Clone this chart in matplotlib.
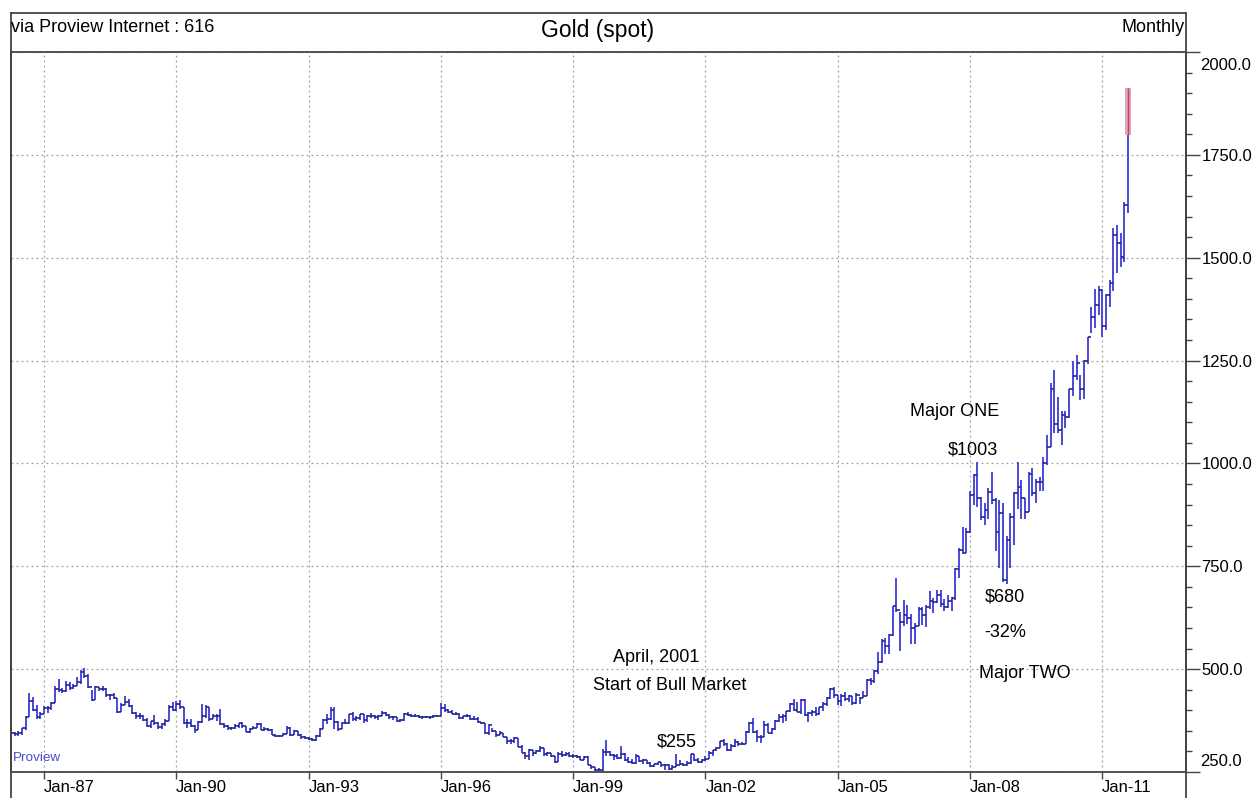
import numpy as np
import matplotlib
matplotlib.use("Agg")
import matplotlib.pyplot as plt
from matplotlib.lines import Line2D
from matplotlib.patches import Rectangle

plt.rcParams['font.family'] = ['Liberation Sans', 'DejaVu Sans']

# ---------------- data: monthly gold OHLC, Apr 1986 .. Aug 2011 ----------------
first_month = -9          # Apr 1986, months counted from Jan 1987

opens = [
    340, 345, 343, 345, 357, 384, 423, 401, 383,                      # 1986 Apr-Dec
    391, 405, 406, 418, 452, 450, 447, 462, 453, 459, 468, 492,       # 1987
    484, 456, 426, 457, 451, 451, 436, 437, 430, 397, 412, 421,       # 1988
    410, 394, 387, 385, 377, 362, 374, 369, 359, 366, 375, 408,       # 1989
    401, 415, 407, 368, 368, 363, 352, 372, 387, 408, 378, 385,       # 1990
    386, 366, 363, 356, 357, 361, 368, 362, 348, 354, 358, 366,       # 1991
    353, 354, 353, 341, 337, 337, 343, 357, 340, 349, 340, 334,       # 1992
    333, 330, 328, 338, 355, 377, 378, 401, 371, 355, 370, 370,       # 1993
    391, 378, 381, 390, 376, 387, 387, 384, 385, 394, 389, 383,       # 1994
    383, 375, 376, 392, 389, 385, 387, 384, 383, 383, 383, 387,       # 1995
    387, 405, 400, 396, 392, 391, 382, 385, 387, 379, 379, 371,       # 1996
    369, 345, 364, 349, 340, 345, 334, 326, 325, 332, 311, 296,       # 1997
    290, 303, 297, 301, 308, 293, 296, 288, 274, 294, 292, 294,       # 1998
    288, 288, 287, 280, 286, 268, 262, 255, 254, 299, 299, 292,       # 1999
    290, 283, 293, 279, 274, 272, 288, 276, 278, 273, 264, 269,       # 2000
    274, 266, 267, 258, 263, 267, 270, 266, 273, 293, 280, 275,       # 2001
    279, 282, 297, 303, 308, 326, 318, 304, 312, 324, 317, 318,       # 2002
    347, 368, 347, 334, 336, 364, 346, 354, 375, 384, 386, 398,       # 2003
    416, 400, 397, 424, 388, 394, 395, 391, 408, 415, 429, 452,       # 2004
    438, 422, 435, 428, 435, 417, 436, 429, 434, 473, 470, 495,       # 2005
    517, 569, 556, 582, 654, 643, 614, 632, 624, 599, 604, 646,       # 2006
    632, 650, 666, 662, 679, 659, 650, 666, 673, 743, 789, 783,       # 2007
    834, 923, 971, 916, 871, 887, 930, 912, 834, 880, 717, 815,       # 2008
    869, 927, 942, 916, 883, 975, 927, 955, 955, 1000, 1040, 1180,    # 2009
    1097, 1081, 1118, 1113, 1180, 1212, 1245, 1181, 1248, 1307, 1357, 1386,  # 2010
    1421, 1333, 1410, 1439, 1556, 1536, 1501, 1628,                   # 2011 Jan-Aug
]
highs = [
    352, 347, 349, 358, 386, 443, 432, 412, 395,
    411, 411, 420, 460, 477, 454, 471, 468, 465, 482, 498, 502,
    487, 450, 458, 457, 458, 455, 439, 443, 431, 418, 434, 428,
    412, 396, 394, 389, 381, 374, 388, 372, 369, 378, 413, 419,
    423, 425, 408, 380, 378, 364, 374, 415, 412, 408, 390, 392,
    403, 369, 365, 360, 366, 370, 371, 361, 356, 362, 370, 368,
    359, 357, 354, 342, 341, 344, 363, 359, 351, 349, 342, 337,
    336, 333, 341, 357, 378, 392, 409, 407, 373, 372, 379, 392,
    396, 387, 392, 392, 389, 393, 389, 388, 398, 397, 392, 385,
    384, 378, 393, 396, 390, 391, 389, 386, 387, 387, 389, 389,
    417, 416, 403, 400, 396, 393, 387, 391, 389, 385, 383, 372,
    370, 366, 356, 350, 349, 345, 334, 331, 336, 333, 315, 298,
    306, 304, 303, 314, 308, 299, 297, 289, 298, 302, 298, 298,
    293, 291, 290, 290, 288, 268, 263, 260, 306, 328, 300, 294,
    293, 313, 296, 287, 281, 294, 290, 281, 279, 275, 270, 274,
    274, 270, 269, 266, 294, 279, 272, 277, 294, 294, 284, 281,
    288, 300, 303, 310, 326, 330, 320, 318, 330, 326, 323, 349,
    372, 382, 353, 340, 373, 370, 358, 376, 392, 391, 399, 417,
    427, 419, 427, 428, 395, 400, 409, 409, 419, 432, 455, 456,
    438, 440, 445, 437, 434, 441, 432, 448, 475, 478, 498, 541,
    573, 575, 586, 654, 722, 640, 669, 655, 633, 612, 650, 650,
    657, 690, 674, 693, 692, 671, 681, 676, 745, 795, 845, 842,
    934, 974, 1003, 918, 904, 940, 980, 915, 912, 903, 823, 880,
    930, 1004, 960, 917, 980, 990, 962, 966, 1016, 1070, 1196, 1227,
    1162, 1128, 1127, 1181, 1249, 1264, 1214, 1251, 1308, 1381, 1424, 1431,
    1425, 1411, 1446, 1572, 1580, 1560, 1636, 1913,
]
lows = [
    336, 337, 337, 341, 352, 383, 399, 380, 380,
    392, 394, 400, 418, 445, 442, 445, 450, 451, 459, 464, 478,
    454, 423, 426, 446, 447, 432, 425, 427, 394, 397, 412, 409,
    392, 380, 380, 375, 359, 358, 364, 355, 355, 362, 375, 399,
    398, 403, 366, 358, 360, 345, 351, 370, 381, 375, 378, 375,
    364, 356, 352, 353, 354, 357, 358, 347, 345, 355, 356, 351,
    349, 350, 340, 334, 334, 337, 342, 337, 339, 338, 330, 331,
    327, 326, 326, 336, 354, 367, 376, 355, 350, 354, 367, 367,
    375, 374, 376, 368, 372, 382, 378, 377, 385, 386, 380, 376,
    371, 371, 374, 386, 383, 383, 382, 379, 381, 380, 382, 383,
    386, 396, 394, 390, 389, 380, 379, 383, 377, 377, 370, 367,
    342, 341, 347, 335, 339, 334, 317, 318, 320, 310, 296, 281,
    278, 288, 293, 298, 290, 289, 287, 271, 275, 287, 289, 286,
    285, 283, 278, 279, 267, 257, 253, 251, 253, 288, 288, 280,
    281, 282, 277, 272, 270, 270, 275, 270, 269, 263, 263, 266,
    263, 255, 255, 255, 262, 266, 264, 265, 270, 276, 271, 271,
    277, 281, 288, 300, 308, 314, 302, 300, 310, 314, 315, 318,
    344, 345, 322, 320, 335, 344, 342, 352, 372, 368, 375, 395,
    398, 397, 390, 386, 372, 385, 387, 388, 399, 410, 427, 431,
    413, 411, 423, 421, 414, 415, 416, 429, 434, 461, 467, 489,
    515, 538, 538, 580, 638, 543, 605, 610, 560, 560, 604, 608,
    603, 646, 636, 660, 652, 642, 648, 641, 668, 722, 780, 782,
    831, 898, 895, 862, 851, 864, 902, 786, 745, 712, 708, 745,
    802, 890, 865, 866, 882, 920, 904, 932, 934, 995, 1040, 1075,
    1074, 1045, 1087, 1111, 1165, 1202, 1155, 1157, 1242, 1316, 1330, 1360,
    1308, 1324, 1381, 1418, 1462, 1478, 1490, 1609,
]
closes = [
    345, 343, 345, 357, 384, 423, 401, 383, 391,
    405, 406, 418, 452, 450, 447, 462, 453, 459, 468, 492, 484,
    456, 426, 457, 451, 451, 436, 437, 430, 397, 412, 421, 410,
    394, 387, 385, 377, 362, 374, 369, 359, 366, 375, 408, 401,
    415, 407, 368, 368, 363, 352, 372, 387, 408, 378, 385, 386,
    366, 363, 356, 357, 361, 368, 362, 348, 354, 358, 366, 353,
    354, 353, 341, 337, 337, 343, 357, 340, 349, 340, 334, 333,
    330, 328, 338, 355, 377, 378, 401, 371, 355, 370, 370, 391,
    378, 381, 390, 376, 387, 387, 384, 385, 394, 389, 383, 383,
    375, 376, 392, 389, 385, 387, 384, 383, 383, 383, 387, 387,
    405, 400, 396, 392, 391, 382, 385, 387, 379, 379, 371, 369,
    345, 364, 349, 340, 345, 334, 326, 325, 332, 311, 296, 290,
    303, 297, 301, 308, 293, 296, 288, 274, 294, 292, 294, 288,
    288, 287, 280, 286, 268, 262, 255, 254, 299, 299, 292, 290,
    283, 293, 279, 274, 272, 288, 276, 278, 273, 264, 269, 274,
    266, 267, 258, 263, 267, 270, 266, 273, 293, 280, 275, 279,
    282, 297, 303, 308, 326, 318, 304, 312, 324, 317, 318, 347,
    368, 347, 334, 336, 364, 346, 354, 375, 384, 386, 398, 416,
    400, 397, 424, 388, 394, 395, 391, 408, 415, 429, 452, 438,
    422, 435, 428, 435, 417, 436, 429, 434, 473, 470, 495, 517,
    569, 556, 582, 654, 643, 614, 632, 624, 599, 604, 646, 632,
    650, 666, 662, 679, 659, 650, 666, 673, 743, 789, 783, 834,
    923, 971, 916, 871, 887, 930, 912, 834, 880, 717, 815, 869,
    927, 942, 916, 883, 975, 927, 955, 955, 1000, 1040, 1180, 1097,
    1081, 1118, 1113, 1180, 1212, 1245, 1181, 1248, 1307, 1357, 1386, 1421,
    1333, 1410, 1439, 1556, 1536, 1501, 1628, 1826,
]
# highlighted (current) range of the last bar
live_low, live_high = 1798, 1913

xtick_months = [0, 36, 72, 108, 144, 180, 216, 252, 288]
xtick_labels = ["Jan-87", "Jan-90", "Jan-93", "Jan-96", "Jan-99",
                "Jan-02", "Jan-05", "Jan-08", "Jan-11"]
ytick_values = [250, 500, 750, 1000, 1250, 1500, 1750, 2000]

annotations = [
    ("Major ONE", 247.9, 1125),
    ("$1003", 252.8, 1033),
    ("$680", 261.5, 676),
    ("-32%", 261.5, 588),
    ("Major TWO", 266.9, 489),
    ("April, 2001", 166.7, 528),
    ("Start of Bull Market", 170.2, 460),
    ("$255", 172.1, 324),
]

# ---------------- figure ----------------
W, H = 1259, 798
fig = plt.figure(figsize=(W / 100, H / 100), dpi=100)
fig.patch.set_facecolor('white')

def fx(px):
    return px / W

def fy(py):
    return 1 - py / H

ax = fig.add_axes([fx(11), fy(772), fx(1186) - fx(11), fy(52) - fy(772)])

months = np.arange(first_month, first_month + len(closes))
ax.vlines(months, lows, highs, color='#4a4ad6', linewidth=1.4, zorder=3)
ax.hlines(opens, months - 0.5, months, color='#262688', linewidth=1.2, zorder=3)
ax.hlines(closes, months, months + 0.5, color='#262688', linewidth=1.2, zorder=3)

# last (live) bar highlight
m_last = months[-1]
ax.add_patch(Rectangle((m_last - 0.7, live_low), 1.4, live_high - live_low,
                       facecolor='#cfa9c6', edgecolor='none', zorder=4))
ax.vlines([m_last], [live_low], [live_high], color='#e83a3a', linewidth=1.0, zorder=5)

ax.set_xlim(-8.98, 310.8)
ax.set_ylim(250, 2000)

# grid
ax.set_xticks(xtick_months)
ax.set_xticklabels(xtick_labels)
ax.grid(True, which='major', color='#a0a0a0', linestyle=(0, (1.5, 2.5)), linewidth=0.9, zorder=1)

# y axis on the right
ax.yaxis.tick_right()
ax.set_yticks(ytick_values)
ax.set_yticklabels([f"{v:.1f}" if v not in (250, 2000) else "" for v in ytick_values])
ax.set_yticks(np.arange(250, 2001, 50), minor=True)
ax.tick_params(axis='y', which='major', direction='out', length=10, width=1.0,
               pad=1, labelsize=12, color='#444444', labelcolor='black')
ax.tick_params(axis='y', which='minor', direction='out', length=4.3, width=1.0,
               color='#444444')
ax.tick_params(axis='x', which='major', direction='out', length=5, width=1.0,
               pad=0.5, labelsize=12, color='#444444', labelcolor='black')
for lab in ax.get_xticklabels():
    lab.set_ha('left')

# end labels of the value axis sit inside the frame
ax.text(1.0118, (2000 - 250) / 1750.0 - 13 / 720.0, f"{ytick_values[-1]:.1f}",
        transform=ax.transAxes, fontsize=12, ha='left', va='center', clip_on=False)
ax.text(1.0118, 11 / 720.0, f"{ytick_values[0]:.1f}",
        transform=ax.transAxes, fontsize=12, ha='left', va='center', clip_on=False)

for s in ax.spines.values():
    s.set_color('#444444')
    s.set_linewidth(1.3)

# annotations
for txt, xm, yv in annotations:
    ax.text(xm, yv, txt, fontsize=13, ha='center', va='center', color='black', zorder=6)

ax.text(fx(13 - 11) / (fx(1186) - fx(11)), (772 - 758) / 720.0, "Proview",
        transform=ax.transAxes, fontsize=9.7, color='#4a4ad0', ha='left', va='center')

# header frame
lc = '#444444'
fig.add_artist(Line2D([fx(11), fx(1186)], [fy(12.5), fy(12.5)], color=lc, linewidth=1.3))
fig.add_artist(Line2D([fx(11), fx(11)], [fy(12.5), fy(798)], color=lc, linewidth=1.3))
fig.add_artist(Line2D([fx(1186), fx(1186)], [fy(12.5), fy(798)], color=lc, linewidth=1.3))

fig.text(fx(11), fy(28), "via Proview Internet : 616", fontsize=13, ha='left', va='center')
fig.text(fx(598), fy(31), "Gold (spot)", fontsize=16.5, ha='center', va='center')
fig.text(fx(1185), fy(28), "Monthly", fontsize=13, ha='right', va='center')

fig.savefig("out.png", dpi=100, facecolor='white')
